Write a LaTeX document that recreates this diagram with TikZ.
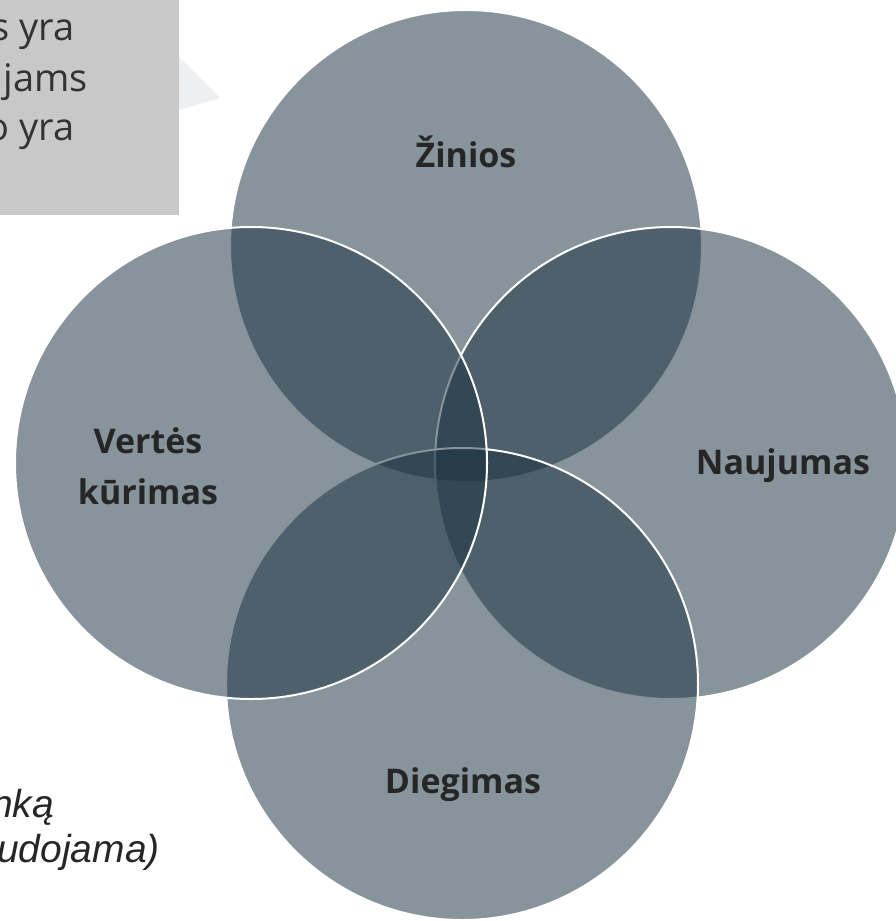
\documentclass[tikz,border=0pt]{standalone}
\usepackage{fontspec}
\setmainfont{Open Sans}
\newfontfamily\arialfont{Liberation Sans}
\definecolor{ringbase}{RGB}{26,49,63}
\definecolor{labeltext}{RGB}{38,38,38}
\definecolor{boxgray}{RGB}{200,200,200}
\definecolor{boxtext}{RGB}{51,51,51}
\definecolor{faintgray}{RGB}{238,239,241}
\begin{document}
\begin{tikzpicture}[x=1pt,y=-1pt,
  ring/.style={circle,inner sep=0pt,minimum size=472pt,fill=ringbase,fill opacity=0.52,draw=white,line width=2pt},
  ringlabel/.style={text=labeltext,font=\fontsize{34}{51}\selectfont\bfseries,align=center,inner sep=0pt},
  boxline/.style={text=boxtext,font=\fontsize{38}{46}\selectfont,anchor=base east,inner sep=0pt},
  noteline/.style={text=labeltext,font=\arialfont\itshape\fontsize{39}{45}\selectfont,anchor=base west,inner sep=0pt}]
\useasboundingbox (0,0) rectangle (896,921);
\clip (0,0) rectangle (896,921);
% faint pointer and note box
\fill[faintgray] (140,18) -- (220,98) -- (140,121) -- cycle;
\fill[boxgray] (0,0) rectangle (179,215);
\node[boxline] (b1) at (75,40) {s yra};
\node[boxline] (b2) at (88,91) {jams};
\node[boxline] (b3) at (75,140) {o yra};
% circles
\node[ring] (zin) at (466,246) {};
\node[ring] (nau) at (671,463) {};
\node[ring] (die) at (462,684) {};
\node[ring] (ver) at (251,463) {};
% labels
\node[ringlabel] (lzin) at (466,152) {Žinios};
\node[ringlabel] (lnau) at (783,466) {Naujumas};
\node[ringlabel] (ldie) at (463,785) {Diegimas};
\node[ringlabel] (lver) at (148,466) {Vertės\\kūrimas};
% bottom-left note
\node[noteline] (n1) at (-9,817) {nką};
\node[noteline] (n2) at (-3,862) {udojama)};
\end{tikzpicture}
\end{document}
